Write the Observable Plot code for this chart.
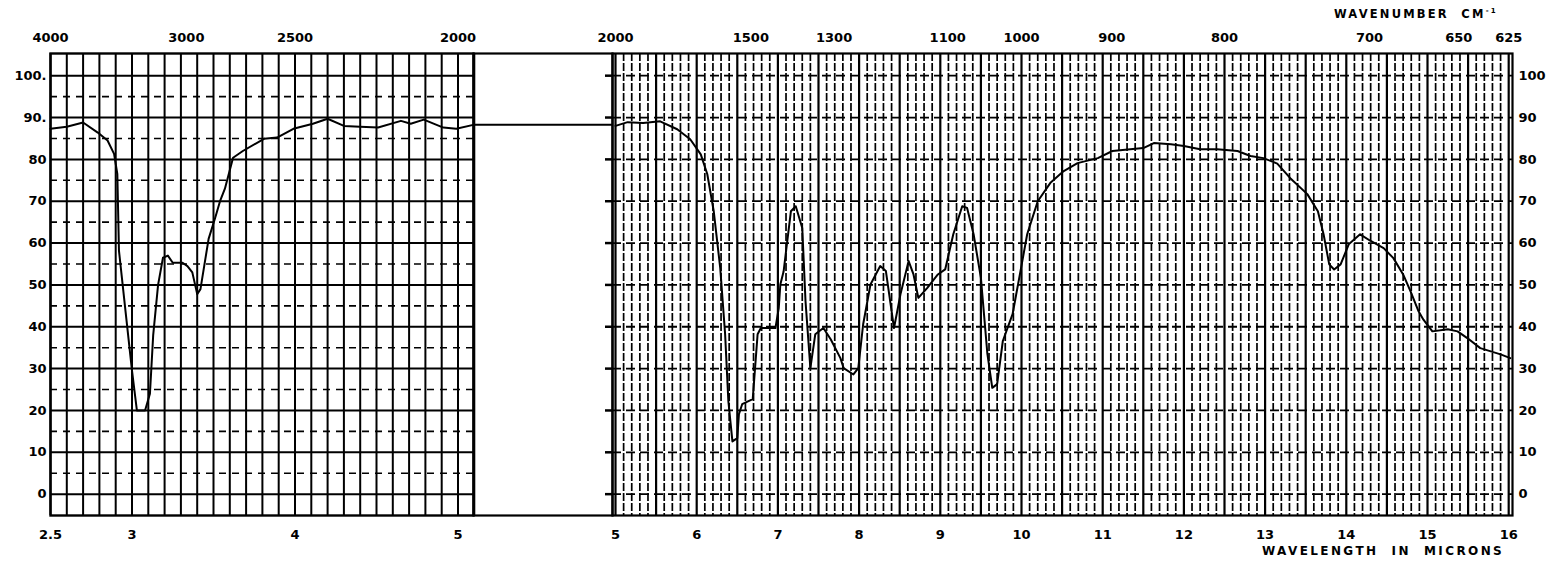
<!DOCTYPE html>
<html><head><meta charset="utf-8">
<script src="https://cdn.jsdelivr.net/npm/d3@7"></script>
<script src="https://cdn.jsdelivr.net/npm/@observablehq/plot@0.6"></script>
<style>
body{margin:0;background:#fff;}
#wrap{position:relative;width:1548px;height:567px;overflow:hidden;background:#fff;font-family:"DejaVu Sans",sans-serif;}
#wrap svg{position:absolute;left:0;top:0;background:transparent !important;}
.ttl{position:absolute;font-weight:bold;color:#000;white-space:nowrap;font-family:"DejaVu Sans",sans-serif;}
</style></head><body><div id="wrap"></div>
<script>
// ---- data ----
const leftWavelength = [2.50,2.60,2.70,2.79,2.85,2.89,2.91,2.92,2.96,3.00,3.03,3.08,3.11,3.13,3.16,3.19,3.22,3.25,3.31,3.34,3.37,3.40,3.42,3.47,3.51,3.54,3.57,3.62,3.68,3.81,3.89,3.99,4.11,4.20,4.30,4.40,4.51,4.65,4.71,4.79,4.91,4.99,5.10];
const leftTransmittance = [87.3,87.8,88.8,86.4,84.5,81.3,76.5,58.2,43.8,29.5,20,20,24,38,50,56.5,57,55.3,55.3,54.5,53,47.8,49,61,66,70,73,80.4,82,84.9,85.2,87.3,88.5,89.7,88,87.8,87.6,89.2,88.5,89.5,87.6,87.3,88.3];
const rightWavelength = [5.00,5.15,5.34,5.55,5.76,5.92,6.05,6.13,6.21,6.29,6.35,6.39,6.44,6.50,6.52,6.56,6.69,6.75,6.79,6.97,7.01,7.03,7.07,7.16,7.22,7.30,7.34,7.40,7.46,7.56,7.65,7.77,7.81,7.93,7.99,8.05,8.14,8.26,8.33,8.43,8.51,8.61,8.67,8.73,8.84,8.97,9.06,9.16,9.27,9.33,9.41,9.50,9.58,9.64,9.70,9.77,9.89,10.01,10.07,10.20,10.36,10.52,10.69,10.94,11.12,11.34,11.50,11.63,11.84,12.00,12.20,12.41,12.66,12.82,12.98,13.15,13.31,13.52,13.65,13.72,13.79,13.85,13.93,14.03,14.17,14.30,14.46,14.58,14.70,14.79,14.89,14.95,15.06,15.25,15.37,15.49,15.65,15.90,16.02];
const rightTransmittance = [88.0,88.9,88.7,89.1,87.2,84.8,81.2,76.5,67.6,54,38.2,22.2,12.6,13.4,19.1,21.5,22.7,38.2,39.7,39.7,44.4,50.1,53.2,67.6,68.8,63.6,46.1,30.1,38.2,39.7,37,32.5,30.1,28.6,30.1,40.6,50.1,54.5,53.3,39.7,47.8,55.7,52.5,46.9,49.3,52.5,53.7,62.1,68.8,68.4,62.1,51.7,33.5,25.4,26.3,36.6,43,55.7,62.1,70,74.5,77.2,79.1,80.3,82,82.4,82.7,83.9,83.6,83.2,82.4,82.4,82,80.8,80.3,79,75.5,71.7,67.6,62.1,54.9,53.7,54.9,59.7,62.1,60.5,58.8,56.4,52.5,48.5,43.7,41.7,38.9,39.4,38.9,37.3,34.9,33.4,32.5];
const gapLevel = [88.3];
const leftWavenumberTicks = [4000,3000,2500,2000];
const rightWavenumberTicks = [2000,1500,1300,1100,1000,900,800,700,650,625];
const leftMicronTicks = [2.5,3,4,5];
const rightMicronTicks = [5,6,7,8,9,10,11,12,13,14,15,16];
const percentTicks = [0,10,20,30,40,50,60,70,80,90,100];
const leftPercentLabels = ["0","10","20","30","40","50","60","70","80","90.","100."];

// ---- layout ----
const W = 1548, H = 567;
const plotTop = 53, plotBottom = 515;
const leftX0 = 50, leftX1 = 473, rightX0 = 612, rightX1 = 1512;
const yDomain = [-5.1, 105.3];
const bold = {fontWeight: "bold", fontFamily: "DejaVu Sans"};
const wrap = document.getElementById("wrap");

const leftGridX = d3.range(25, 52).map(v => v / 10);
const halfTicks = d3.range(0, 10).map(v => v * 10 + 5);
const rightGridX = d3.range(50, 161).map(v => v / 10);
const rightMajorX = rightGridX.filter(v => Math.abs(v * 2 - Math.round(v * 2)) < 1e-6);
const rightMinorX = rightGridX.filter(v => !rightMajorX.includes(v));

const base = {width: W, height: H, marginTop: plotTop, marginBottom: H - plotBottom,
  style: {background: "transparent", overflow: "visible"}};

// left panel
const left = Plot.plot({
  ...base, marginLeft: leftX0, marginRight: W - leftX1,
  x: {domain: [2.5, 2.5 + (leftX1 - leftX0) / 163]},
  y: {domain: yDomain},
  marks: [
    Plot.ruleX(leftGridX, {stroke: "#000", strokeWidth: 2}),
    Plot.ruleY(percentTicks, {stroke: "#000", strokeWidth: 2}),
    Plot.ruleY(halfTicks, {stroke: "#000", strokeWidth: 1.6, strokeDasharray: "7,6"}),
    Plot.frame({stroke: "#000", strokeWidth: 2.4}),
    Plot.line(leftWavelength, {x: d => d, y: leftTransmittance, stroke: "#000", strokeWidth: 2}),
    Plot.axisX({ticks: leftMicronTicks, anchor: "bottom", tickSize: 0, tickPadding: 14, fontSize: 13, ...bold, tickFormat: d => String(d), label: null}),
    Plot.axisX({ticks: leftWavenumberTicks.map(w => 10000 / w), anchor: "top", tickSize: 0, tickPadding: 12, fontSize: 13, ...bold, tickFormat: d => String(Math.round(10000 / d)), label: null}),
    Plot.axisY({ticks: percentTicks, anchor: "left", tickSize: 0, tickPadding: 4, fontSize: 13, ...bold, tickFormat: d => leftPercentLabels[percentTicks.indexOf(d)], label: null})
  ]
});

// blank gap box between the panels
const gap = Plot.plot({
  ...base, marginLeft: leftX1, marginRight: W - rightX0,
  x: {domain: [0, 1], axis: null},
  y: {domain: yDomain, axis: null},
  marks: [
    Plot.frame({stroke: "#000", strokeWidth: 2.2}),
    Plot.ruleY(gapLevel, {stroke: "#000", strokeWidth: 2})
  ]
});

// right panel
const right = Plot.plot({
  ...base, marginLeft: rightX0, marginRight: W - rightX1,
  x: {domain: [5 - (615 - rightX0) / 81.2, 5 + (rightX1 - 615) / 81.2]},
  y: {domain: yDomain},
  marks: [
    Plot.ruleX(rightMinorX, {stroke: "#000", strokeWidth: 1.7, strokeDasharray: "8,2"}),
    Plot.ruleX(rightMajorX, {stroke: "#000", strokeWidth: 2.2}),
    Plot.ruleY(percentTicks, {stroke: "#000", strokeWidth: 1.8, strokeDasharray: "9,5"}),
    Plot.frame({stroke: "#000", strokeWidth: 2.2}),
    Plot.line(rightWavelength, {x: d => d, y: rightTransmittance, stroke: "#000", strokeWidth: 2}),
    Plot.axisX({ticks: rightMicronTicks, anchor: "bottom", tickSize: 0, tickPadding: 14, fontSize: 13, ...bold, tickFormat: d => String(d), label: null}),
    Plot.axisX({ticks: rightWavenumberTicks.map(w => 10000 / w), anchor: "top", tickSize: 0, tickPadding: 12, fontSize: 13, ...bold, tickFormat: d => String(Math.round(10000 / d)), label: null}),
    Plot.axisY({ticks: percentTicks, anchor: "right", tickSize: 0, tickPadding: 6, fontSize: 13, ...bold, tickFormat: d => String(d), label: null}),
    Plot.axisY({ticks: percentTicks, anchor: "left", tickSize: 7, strokeWidth: 2.5, tickFormat: () => "", label: null})
  ]
});

wrap.append(left, gap, right);

const t1 = document.createElement("div");
t1.className = "ttl";
t1.style.cssText = "left:1334px;top:7px;font-size:11.5px;letter-spacing:2.2px;";
t1.innerHTML = "WAVENUMBER&nbsp;&nbsp;CM<sup style='font-size:7px'>-1</sup>";
const t2 = document.createElement("div");
t2.className = "ttl";
t2.style.cssText = "left:1262px;top:544px;font-size:12px;letter-spacing:2.4px;";
t2.innerHTML = "WAVELENGTH&nbsp;&nbsp;IN&nbsp;&nbsp;MICRONS";
wrap.append(t1, t2);
</script>
</body></html>
